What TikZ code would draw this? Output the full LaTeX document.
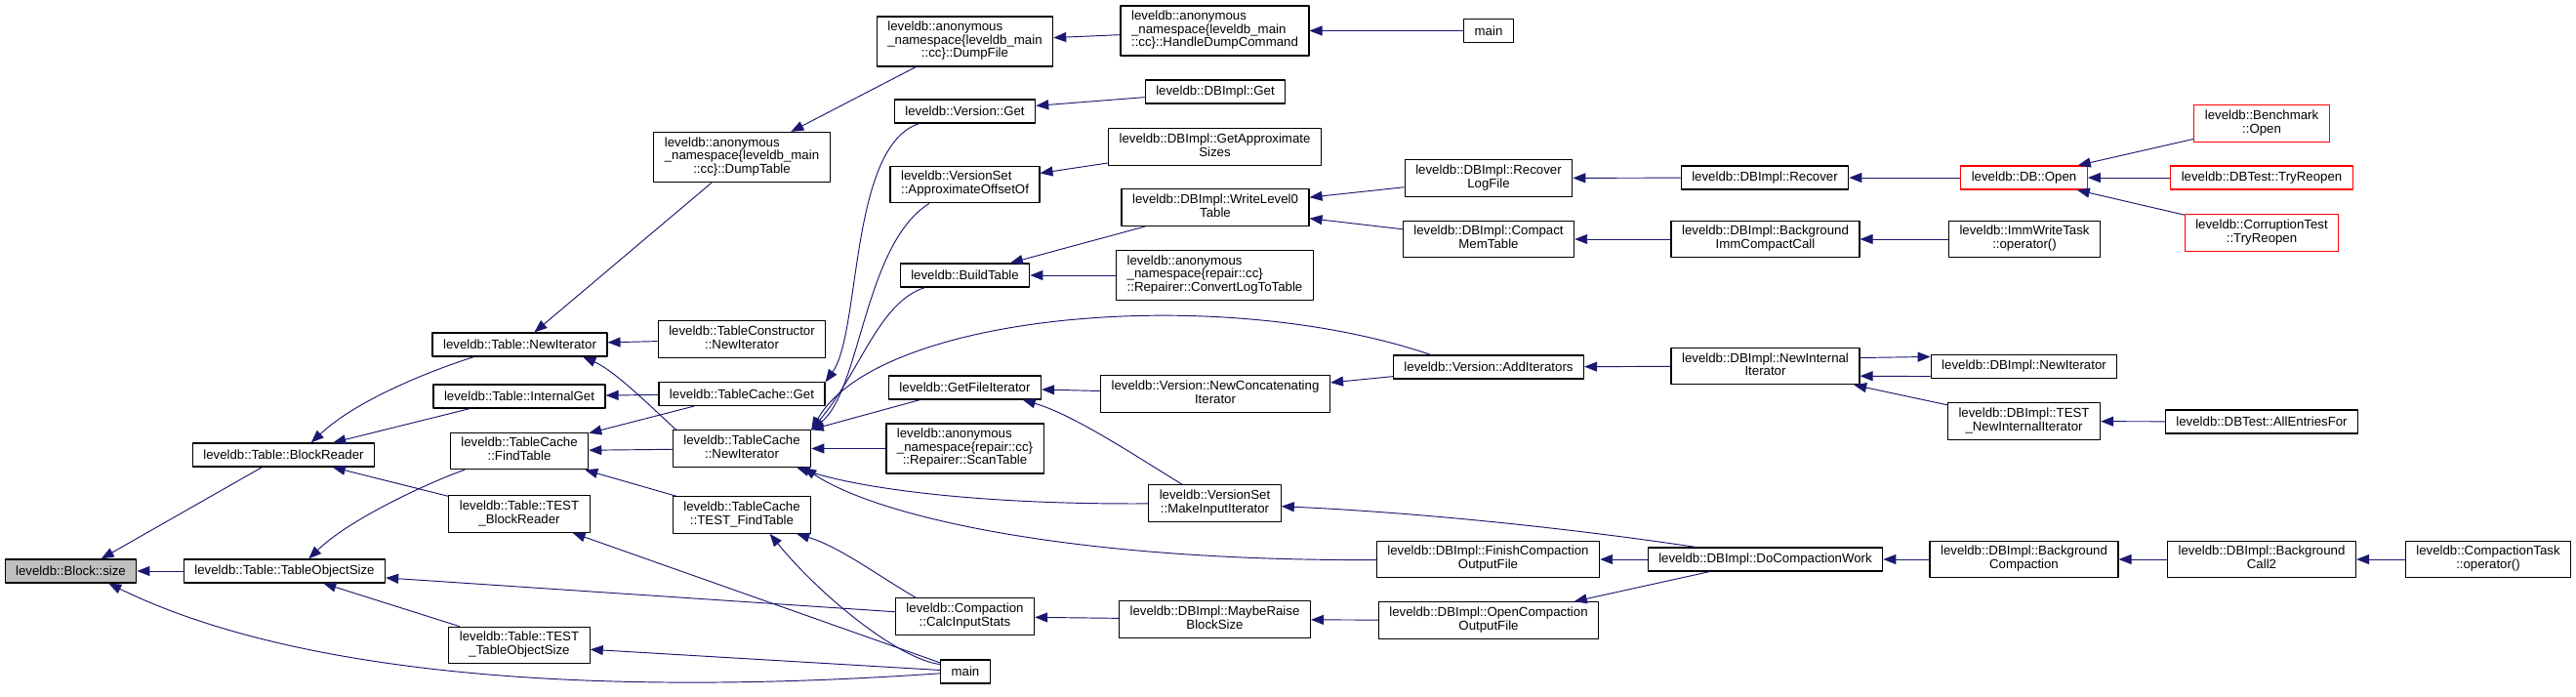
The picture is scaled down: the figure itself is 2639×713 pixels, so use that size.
\documentclass[tikz,border=0pt]{standalone}
\usepackage{fontspec}
\setmainfont{Liberation Sans}
\usetikzlibrary{arrows.meta}
\definecolor{callink}{HTML}{191970}
\definecolor{extred}{HTML}{FF0000}
\newcommand{\twoln}[2]{\begin{tabular}{@{}l@{}}#1\\\multicolumn{1}{@{}c@{}}{#2}\end{tabular}}
\newcommand{\threeln}[3]{\begin{tabular}{@{}l@{}}#1\\#2\\\multicolumn{1}{@{}c@{}}{#3}\end{tabular}}

\begin{document}
\begin{tikzpicture}[x=1pt,y=-1pt,>={Triangle[length=13pt,width=10pt]},
  line join=round,
  font=\fontsize{13.25}{13.5}\selectfont,
  fnbox/.style={draw=black,line width=1.2pt,fill=white,inner xsep=11pt,inner ysep=0pt,minimum height=24pt},
  fnbox2/.style={fnbox,minimum height=37.5pt},
  fnbox3/.style={fnbox,minimum height=51pt},
  ext/.style={draw=extred},
  calls/.style={->,callink,line width=0.95pt}]
\useasboundingbox (0,0) rectangle (2639,713);
\fill[white] (0,0) rectangle (2639,713);

% column 0-1
\node[fnbox,fill=black!25] (size) at (72.5,585) {leveldb::Block::size};
\node[fnbox] (tos) at (291.5,585) {leveldb::Table::TableObjectSize};
\node[fnbox] (blockreader) at (290.5,466) {leveldb::Table::BlockReader};

% column 2
\node[fnbox] (tnewit) at (532.5,353) {leveldb::Table::NewIterator};
\node[fnbox] (internalget) at (532,406) {leveldb::Table::InternalGet};
\node[fnbox2] (findtable) at (532,462) {\twoln{leveldb::TableCache}{::FindTable}};
\node[fnbox2] (testblockreader) at (532,526.5) {\twoln{leveldb::Table::TEST}{\_BlockReader}};
\node[fnbox2] (testtos) at (532,661) {\twoln{leveldb::Table::TEST}{\_TableObjectSize}};

% column 3
\node[fnbox3] (dumptable) at (760,161) {\threeln{leveldb::anonymous}{\_namespace\{leveldb\_main}{::cc\}::DumpTable}};
\node[fnbox2] (tcnewit) at (760,347.5) {\twoln{leveldb::TableConstructor}{::NewIterator}};
\node[fnbox] (tcget) at (760,403.5) {leveldb::TableCache::Get};
\node[fnbox2] (tcacheit) at (760,459.5) {\twoln{leveldb::TableCache}{::NewIterator}};
\node[fnbox2] (testfindtable) at (760,527.5) {\twoln{leveldb::TableCache}{::TEST\_FindTable}};

% column 4
\node[fnbox3] (dumpfile) at (988.5,42.5) {\threeln{leveldb::anonymous}{\_namespace\{leveldb\_main}{::cc\}::DumpFile}};
\node[fnbox] (versionget) at (988.5,114) {leveldb::Version::Get};
\node[fnbox2] (approxoff) at (988.5,189) {\twoln{leveldb::VersionSet}{::ApproximateOffsetOf}};
\node[fnbox] (buildtable) at (988.5,282) {leveldb::BuildTable};
\node[fnbox] (getfileit) at (988.5,397) {leveldb::GetFileIterator};
\node[fnbox3] (scantable) at (988.5,459.5) {\threeln{leveldb::anonymous}{\_namespace\{repair::cc\}}{::Repairer::ScanTable}};
\node[fnbox2] (calcinput) at (988.5,631.5) {\twoln{leveldb::Compaction}{::CalcInputStats}};
\node[fnbox] (mainb) at (989,688) {main};

% column 5
\node[fnbox3] (handledump) at (1244.5,31.5) {\threeln{leveldb::anonymous}{\_namespace\{leveldb\_main}{::cc\}::HandleDumpCommand}};
\node[fnbox] (dbget) at (1245,94) {leveldb::DBImpl::Get};
\node[fnbox2] (approxsizes) at (1244.5,150.5) {\twoln{leveldb::DBImpl::GetApproximate}{Sizes}};
\node[fnbox2] (writelevel0) at (1245,212.5) {\twoln{leveldb::DBImpl::WriteLevel0}{Table}};
\node[fnbox3] (convertlog) at (1244.5,282) {\threeln{leveldb::anonymous}{\_namespace\{repair::cc\}}{::Repairer::ConvertLogToTable}};
\node[fnbox2] (newconcat) at (1245,403.5) {\twoln{leveldb::Version::NewConcatenating}{Iterator}};
\node[fnbox2] (makeinput) at (1244.5,515.5) {\twoln{leveldb::VersionSet}{::MakeInputIterator}};
\node[fnbox2] (maybereise) at (1244.5,634.5) {\twoln{leveldb::DBImpl::MaybeRaise}{BlockSize}};

% column 6
\node[fnbox] (maintop) at (1525,31.5) {main};
\node[fnbox2] (recoverlog) at (1525,182.5) {\twoln{leveldb::DBImpl::Recover}{LogFile}};
\node[fnbox2] (compactmem) at (1525,245) {\twoln{leveldb::DBImpl::Compact}{MemTable}};
\node[fnbox] (additer) at (1525,376) {leveldb::Version::AddIterators};
\node[fnbox2] (finishcomp) at (1524.5,573) {\twoln{leveldb::DBImpl::FinishCompaction}{OutputFile}};
\node[fnbox2] (opencomp) at (1525,635.5) {\twoln{leveldb::DBImpl::OpenCompaction}{OutputFile}};

% column 7
\node[fnbox] (recover) at (1808,182) {leveldb::DBImpl::Recover};
\node[fnbox2] (bgimm) at (1808.5,245) {\twoln{leveldb::DBImpl::Background}{ImmCompactCall}};
\node[fnbox2] (newinternal) at (1808.5,375) {\twoln{leveldb::DBImpl::NewInternal}{Iterator}};
\node[fnbox] (docompact) at (1808.5,573) {leveldb::DBImpl::DoCompactionWork};

% column 8
\node[fnbox,ext] (dbopen) at (2073.5,182) {leveldb::DB::Open};
\node[fnbox2] (immwrite) at (2074,245) {\twoln{leveldb::ImmWriteTask}{::operator()}};
\node[fnbox] (dbnewit) at (2073.5,375.5) {leveldb::DBImpl::NewIterator};
\node[fnbox2] (testnewinternal) at (2073.5,431.5) {\twoln{leveldb::DBImpl::TEST}{\_NewInternalIterator}};
\node[fnbox2] (bgcompaction) at (2073.5,573) {\twoln{leveldb::DBImpl::Background}{Compaction}};

% column 9-10
\node[fnbox2,ext] (benchopen) at (2317,126.5) {\twoln{leveldb::Benchmark}{::Open}};
\node[fnbox,ext] (tryreopen) at (2317,182) {leveldb::DBTest::TryReopen};
\node[fnbox2,ext] (corrupt) at (2317,238.5) {\twoln{leveldb::CorruptionTest}{::TryReopen}};
\node[fnbox] (allentries) at (2317,432) {leveldb::DBTest::AllEntriesFor};
\node[fnbox2] (bgcall2) at (2317,573) {\twoln{leveldb::DBImpl::Background}{Call2}};
\node[fnbox2] (compactiontask) at (2549,573) {\twoln{leveldb::CompactionTask}{::operator()}};

% callers of Block::size
\draw[calls] (tos) -- (size);
\draw[calls] (blockreader) -- (size.22);
\draw[calls] (mainb) .. controls (600,715) and (300,690) .. (size.-18);

% BlockReader, TableObjectSize
\draw[calls] (tnewit.-165) .. controls (440,380) and (365,410) .. (blockreader.24);
\draw[calls] (internalget) -- (blockreader);
\draw[calls] (testblockreader) -- (blockreader);
\draw[calls] (findtable.-161) .. controls (445,492) and (360,530) .. (tos.27);
\draw[calls] (calcinput) -- (tos);
\draw[calls] (testtos) -- (tos);

% Table::NewIterator, TableCache
\draw[calls] (dumptable) -- (tnewit);
\draw[calls] (tcnewit) -- (tnewit);
\draw[calls] (tcacheit.164) .. controls (665,415) and (630,380) .. (tnewit.-11);
\draw[calls] (tcget) -- (internalget);
\draw[calls] (tcget) -- (findtable);
\draw[calls] (tcacheit) -- (findtable);
\draw[calls] (testfindtable) -- (findtable);
\draw[calls] (mainb) -- (testblockreader);
\draw[calls] (mainb) -- (testtos);
\draw[calls] (mainb.164) .. controls (920,675) and (840,610) .. (testfindtable.-34);
\draw[calls] (calcinput.159) .. controls (900,590) and (860,560) .. (testfindtable.-19);

% into TableCache::Get / ::NewIterator
\draw[calls] (versionget.-165) .. controls (870,150) and (882,340) .. (tcget.8);
\draw[calls] (approxoff.-152) .. controls (885,250) and (882,400) .. (tcacheit.15);
\draw[calls] (buildtable.-163) .. controls (900,310) and (882,380) .. (tcacheit.15);
\draw[calls] (additer.168) .. controls (1250,290) and (900,320) .. (tcacheit.15);
\draw[calls] (getfileit) -- (tcacheit);
\draw[calls] (scantable) -- (tcacheit);
\draw[calls] (makeinput) .. controls (1000,517) and (880,500) .. (tcacheit.-19);
\draw[calls] (finishcomp) .. controls (1100,575) and (900,530) .. (tcacheit.-17);

% iterators
\draw[calls] (newconcat) -- (getfileit);
\draw[calls] (makeinput.150) .. controls (1160,465) and (1100,425) .. (getfileit.-12);
\draw[calls] (additer) -- (newconcat);
\draw[calls] (newinternal) -- (additer);
\draw[calls] (newinternal.5) -- (dbnewit.174);
\draw[calls] (dbnewit.-174) -- (newinternal.-6);
\draw[calls] (testnewinternal) -- (newinternal);
\draw[calls] (allentries) -- (testnewinternal);

% compaction
\draw[calls] (docompact.170) .. controls (1600,540) and (1450,525) .. (makeinput);
\draw[calls] (docompact) -- (finishcomp);
\draw[calls] (docompact) -- (opencomp);
\draw[calls] (opencomp) -- (maybereise);
\draw[calls] (maybereise) -- (calcinput);
\draw[calls] (bgcompaction) -- (docompact);
\draw[calls] (bgcall2) -- (bgcompaction);
\draw[calls] (compactiontask) -- (bgcall2);

% BuildTable, recovery
\draw[calls] (writelevel0) -- (buildtable);
\draw[calls] (convertlog) -- (buildtable);
\draw[calls] (recoverlog) -- (writelevel0);
\draw[calls] (compactmem) -- (writelevel0);
\draw[calls] (recover) -- (recoverlog);
\draw[calls] (bgimm) -- (compactmem);
\draw[calls] (dbopen) -- (recover);
\draw[calls] (immwrite) -- (bgimm);
\draw[calls] (benchopen) -- (dbopen);
\draw[calls] (tryreopen) -- (dbopen);
\draw[calls] (corrupt) -- (dbopen);

% top rows
\draw[calls] (dbget) -- (versionget);
\draw[calls] (approxsizes) -- (approxoff);
\draw[calls] (dumpfile) -- (dumptable);
\draw[calls] (handledump) -- (dumpfile);
\draw[calls] (maintop) -- (handledump);
\end{tikzpicture}
\end{document}
